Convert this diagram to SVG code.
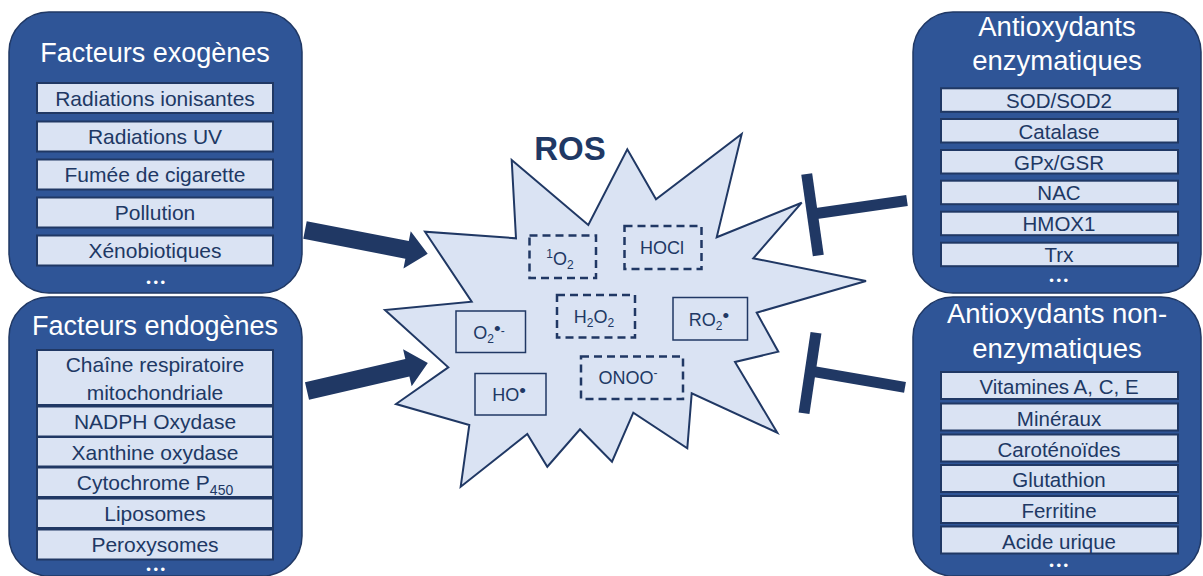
<svg xmlns="http://www.w3.org/2000/svg" width="1203" height="576" viewBox="0 0 1203 576">
<style>
text { font-family: "Liberation Sans", Arial, sans-serif; }
.panel { fill:#2F5597; stroke:#203864; stroke-width:1.5; }
.item { fill:#DAE3F3; stroke:#203864; stroke-width:2; }
.title { font-size:27px; fill:#FFFFFF; text-anchor:middle; }
.titler { font-size:27.5px; fill:#FFFFFF; text-anchor:middle; }
.itxt { font-size:21px; fill:#203864; text-anchor:middle; }
.itxr { font-size:20.5px; fill:#203864; text-anchor:middle; }
.dots { font-size:13px; fill:#FFFFFF; text-anchor:middle; letter-spacing:2.6px; }
.burst { fill:#DAE3F3; stroke:#203864; stroke-width:2; stroke-linejoin:miter; }
.sp { fill:none; stroke:#203864; stroke-width:1.5; }
.spd { fill:none; stroke:#203864; stroke-width:2.5; stroke-dasharray:8 5; }
.stxt { font-size:18px; fill:#203864; text-anchor:middle; }
.inh { stroke:#203864; stroke-width:11; fill:none; }
.arr { fill:#203864; }
</style>
<rect width="1203" height="576" fill="#FFFFFF"/>

<g id="exogenes">
<rect class="panel" x="9" y="12" width="293" height="281" rx="40"/>
<text class="title" x="155" y="62">Facteurs exogènes</text>
<rect class="item" x="37" y="83" width="236" height="30"/>
<text class="itxt" x="155" y="105.5">Radiations ionisantes</text>
<rect class="item" x="37" y="121.5" width="236" height="30"/>
<text class="itxt" x="155" y="144">Radiations UV</text>
<rect class="item" x="37" y="159.5" width="236" height="30"/>
<text class="itxt" x="155" y="182">Fumée de cigarette</text>
<rect class="item" x="37" y="197.5" width="236" height="30"/>
<text class="itxt" x="155" y="220">Pollution</text>
<rect class="item" x="37" y="235.5" width="236" height="30"/>
<text class="itxt" x="155" y="258">Xénobiotiques</text>
<text class="dots" x="157" y="286.5">•••</text>
</g>

<g id="endogenes">
<rect class="panel" x="9" y="297" width="293" height="279" rx="40"/>
<text class="title" x="155" y="335">Facteurs endogènes</text>
<rect class="item" x="37" y="350" width="236" height="55"/>
<text class="itxt" x="155" y="371.5">Chaîne respiratoire</text>
<text class="itxt" x="155" y="399.5">mitochondriale</text>
<rect class="item" x="37" y="406.5" width="236" height="30"/>
<text class="itxt" x="155" y="429">NADPH Oxydase</text>
<rect class="item" x="37" y="437" width="236" height="29.5"/>
<text class="itxt" x="155" y="460">Xanthine oxydase</text>
<rect class="item" x="37" y="467.5" width="236" height="29.5"/>
<text class="itxt" x="155" y="490">Cytochrome P<tspan font-size="14" dy="5">450</tspan></text>
<rect class="item" x="37" y="498.5" width="236" height="29.5"/>
<text class="itxt" x="155" y="521">Liposomes</text>
<rect class="item" x="37" y="529.5" width="236" height="30"/>
<text class="itxt" x="155" y="551.5">Peroxysomes</text>
<text class="dots" x="157" y="574">•••</text>
</g>

<g id="enzymatiques">
<rect class="panel" x="913" y="12" width="288" height="281" rx="40"/>
<text class="titler" x="1057" y="36">Antioxydants</text>
<text class="titler" x="1057" y="70">enzymatiques</text>
<rect class="item" x="941" y="88.3" width="237" height="23.5"/>
<text class="itxr" x="1059" y="108">SOD/SOD2</text>
<rect class="item" x="941" y="119" width="237" height="23.5"/>
<text class="itxr" x="1059" y="138.5">Catalase</text>
<rect class="item" x="941" y="150" width="237" height="23.5"/>
<text class="itxr" x="1059" y="169.5">GPx/GSR</text>
<rect class="item" x="941" y="180.7" width="237" height="23.5"/>
<text class="itxr" x="1059" y="200">NAC</text>
<rect class="item" x="941" y="211.7" width="237" height="23.5"/>
<text class="itxr" x="1059" y="231">HMOX1</text>
<rect class="item" x="941" y="242.7" width="237" height="23.5"/>
<text class="itxr" x="1059" y="262">Trx</text>
<text class="dots" x="1060" y="285">•••</text>
</g>

<g id="non-enzymatiques">
<rect class="panel" x="913" y="297" width="288" height="279" rx="40"/>
<text class="titler" x="1057" y="323">Antioxydants non-</text>
<text class="titler" x="1057" y="358">enzymatiques</text>
<rect class="item" x="941" y="372" width="237" height="27"/>
<text class="itxr" x="1059" y="394">Vitamines A, C, E</text>
<rect class="item" x="941" y="403.5" width="237" height="27"/>
<text class="itxr" x="1059" y="425.5">Minéraux</text>
<rect class="item" x="941" y="434.5" width="237" height="27"/>
<text class="itxr" x="1059" y="456.5">Caroténoïdes</text>
<rect class="item" x="941" y="465" width="237" height="27"/>
<text class="itxr" x="1059" y="487">Glutathion</text>
<rect class="item" x="941" y="496" width="237" height="27"/>
<text class="itxr" x="1059" y="518">Ferritine</text>
<rect class="item" x="941" y="526.5" width="237" height="27"/>
<text class="itxr" x="1059" y="548.5">Acide urique</text>
<text class="dots" x="1060" y="570">•••</text>
</g>

<g id="ros">
<polygon class="burst" points="511.7,160 588.3,225 627.3,149.3 656,199.3 741.7,134 716.7,237.3 801.7,202.7 753.3,258.3 866,281 756.7,312.7 778.3,351.7 735,362 777.3,432.7 691.7,393.3 687.3,448.3 633.3,412.7 612,461.7 580,429.3 547.3,466.7 527.3,434 460.7,486.7 469.3,425 396,404 448.3,367.3 385,310 471.7,301.7 425,231.7 516,238.3"/>
<text x="570" y="160" font-size="33" font-weight="bold" fill="#203864" text-anchor="middle">ROS</text>
<rect class="spd" x="529.5" y="235.5" width="66.5" height="42.5"/>
<text class="stxt" x="560" y="265"><tspan font-size="12" dy="-7">1</tspan><tspan dy="7">O</tspan><tspan font-size="12" dy="4">2</tspan></text>
<rect class="spd" x="624.5" y="226" width="77" height="43"/>
<text class="stxt" x="662" y="254">HOCl</text>
<rect class="spd" x="557" y="295" width="78" height="42.5"/>
<text class="stxt" x="594" y="323">H<tspan font-size="12" dy="4">2</tspan><tspan dy="-4">O</tspan><tspan font-size="12" dy="4">2</tspan></text>
<rect class="sp" x="673" y="297.5" width="74.5" height="42.5"/>
<text class="stxt" x="709" y="326">RO<tspan font-size="12" dy="4">2</tspan><tspan font-size="19" dy="-8">•</tspan></text>
<rect class="sp" x="456" y="311" width="69.5" height="41.5"/>
<text class="stxt" x="489" y="339">O<tspan font-size="12" dy="4">2</tspan><tspan font-size="19" dy="-8">•</tspan><tspan font-size="12">-</tspan></text>
<rect class="sp" x="475" y="373.5" width="71" height="41.5"/>
<text class="stxt" x="509" y="401">HO<tspan font-size="19" dy="-4">•</tspan></text>
<rect class="spd" x="581" y="356.5" width="102" height="42.5"/>
<text class="stxt" x="628" y="384">ONOO<tspan font-size="12" dy="-7">-</tspan></text>
</g>

<g id="connectors">
<polygon class="arr" transform="translate(305,230) rotate(11)" points="0,-9 104,-9 104,-19 125,0 104,19 104,9 0,9"/>
<polygon class="arr" transform="translate(307,391) rotate(-13)" points="0,-9 103,-9 103,-19 124,0 103,19 103,9 0,9"/>
<line class="inh" x1="907" y1="200.5" x2="813" y2="214"/>
<line class="inh" x1="806.7" y1="174" x2="818.3" y2="255.5"/>
<line class="inh" x1="905" y1="387.3" x2="814" y2="371.7"/>
<line class="inh" x1="816" y1="332.7" x2="804" y2="413.3"/>
</g>
</svg>
